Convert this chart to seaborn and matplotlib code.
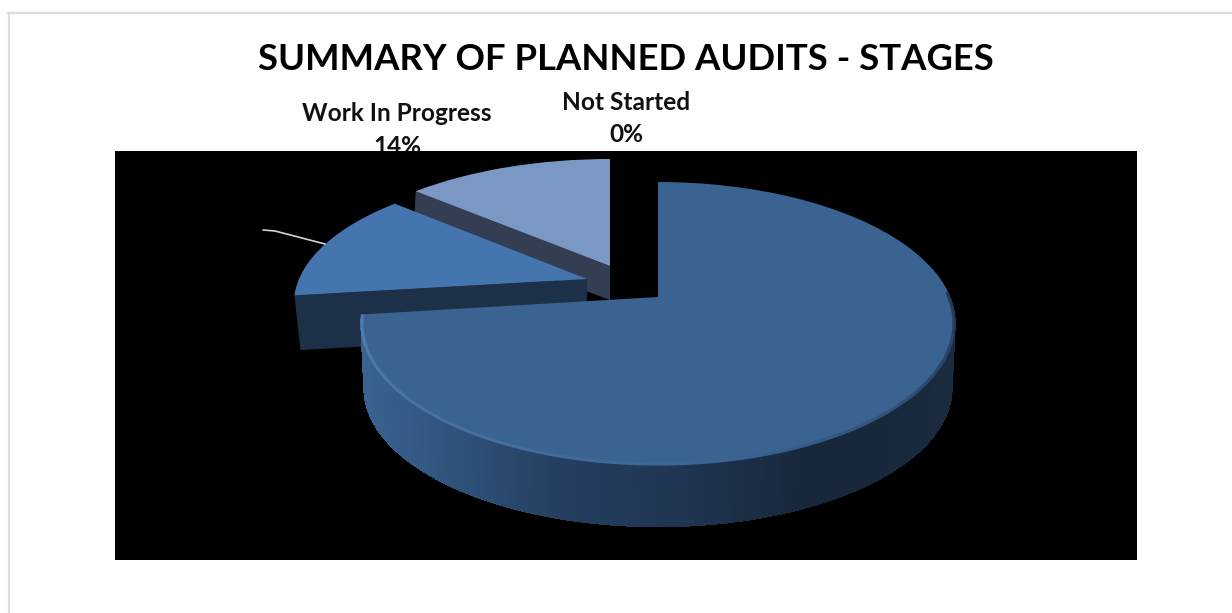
import numpy as np
import seaborn as sns
import matplotlib
matplotlib.use("Agg")
import matplotlib.pyplot as plt
from matplotlib.transforms import Transform
from matplotlib.collections import PolyCollection, LineCollection
from matplotlib.colors import LinearSegmentedColormap, to_rgb

# ---------- data ----------
categories = ["Completed", "Rework", "Work In Progress", "Not Started"]
shares = [73, 13.5, 13.5, 0]
title = "SUMMARY OF PLANNED AUDITS - STAGES"
face_colors = ["#3a6391", "#4575ae", "#7b98c5", "#3a6391"]

sns.set_theme(style="white")
plt.rcParams["font.family"] = ["Lato", "DejaVu Sans"]

W, H = 1232, 613
fig = plt.figure(figsize=(W / 100, H / 100), dpi=100, facecolor="white")
L, T, R, B = 115, 151, 1137, 560
ax = fig.add_axes([L / W, 1 - B / H, (R - L) / W, (B - T) / H])


class Tilt(Transform):
    """Perspective view of the pie plane; output is in pixel-like data units."""
    input_dims = output_dims = 2
    is_separable = False
    has_inverse = False
    is_affine = False

    def __init__(self, cx, cy, a, b, p=0.187):
        super().__init__()
        self.cx, self.cy, self.a, self.b, self.p = cx, cy, a, b, p

    def transform_non_affine(self, values):
        v = np.asarray(values, float)
        d = 1 + self.p * v[:, 1]
        return np.column_stack([self.cx + self.a * v[:, 0] / d,
                                self.cy - self.b * v[:, 1] / d])


def unit(theta):
    t = np.radians(theta)
    return np.column_stack([np.cos(t), np.sin(t)])


wedges, _ = ax.pie(shares, startangle=90, counterclock=False, radius=1,
                   colors=face_colors, wedgeprops={"linewidth": 0, "zorder": 5})
ax.set_aspect("auto")
ax.set_xlim(L, R)
ax.set_ylim(B, T)
ax.set_frame_on(True)
ax.set_facecolor("black")
for s in ax.spines.values():
    s.set_visible(False)

# top and bottom projections of each exploded slice
tops = [Tilt(658, 297, 292, 136.5), Tilt(587, 279, 288, 128), Tilt(610, 266, 291, 127), Tilt(658, 297, 292, 136.5)]
bots = [Tilt(658, 362, 289, 134), Tilt(587, 334, 282, 125), Tilt(610, 300, 294, 125), Tilt(658, 362, 289, 134)]
z_top = [30, 20, 10, 9]
for w, t, z in zip(wedges, tops, z_top):
    w.set_transform(t + ax.transData)
    w.set_zorder(z)
wedges[3].set_visible(False)

# side of the large slice, shaded from left to right
m = wedges[0]
rim_start = 180 + (m.theta1 % 180)
th = np.linspace(rim_start, 372, 320)
p_top, p_bot = tops[0].transform(unit(th)), bots[0].transform(unit(th))
quads = [np.array([p_top[i], p_top[i + 1], p_bot[i + 1], p_bot[i]]) for i in range(len(th) - 1)]
shade = LinearSegmentedColormap.from_list("rim", [(0, "#3a6391"), (0.13, "#31557f"), (0.33, "#253f60"),
                                                  (0.55, "#1f3450"), (0.78, "#172638"), (1, "#1a2b40")])
xm = np.array([q[:, 0].mean() for q in quads])
pc = PolyCollection(quads, facecolors=shade((xm - 362) / (955 - 362)), edgecolors="none", antialiaseds=False, zorder=25)
ax.add_collection(pc)
# bevel highlight on the rim of the large slice
hl = np.linspace(rim_start, 362, 200)
p = tops[0].transform(unit(hl) * 0.996)
segs = [p[i:i + 2] for i in range(len(p) - 1)]
f = np.linspace(0, 1, len(segs))
base, light, dark = np.array(to_rgb("#3a6391")), np.array(to_rgb("#4f7fb6")), np.array(to_rgb("#1f3450"))
cols = [light + (base - light) * (x / 0.55) if x < 0.55 else base + (dark - base) * (x - 0.55) / 0.45 for x in f]
ax.add_collection(LineCollection(segs, colors=cols, linewidths=2.2, zorder=31))

# cut faces of the two pulled-out slices
for i, col in ((1, "#1c3148"), (2, "#343e53")):
    edge = unit(np.array([wedges[i].theta2]))
    zero = np.zeros((1, 2))
    poly = np.vstack([tops[i].transform(zero), tops[i].transform(edge),
                      bots[i].transform(edge), bots[i].transform(zero)])
    ax.fill(poly[:, 0], poly[:, 1], color=col, lw=0, zorder=z_top[i] - 1)

# leader line toward the slice label
ax.plot([263, 275, 325], [230, 231, 244], color="#d4d4d4", lw=1.2, zorder=40)

ax.set_xticks([])
ax.set_yticks([])

# texts sit below the plot area, which covers part of the label
fig.text(626 / W, 1 - 60 / H, title, ha="center", va="center", fontsize=26.3, fontweight="bold",
         color="black", zorder=-1)
fig.text(397 / W, 1 - 113 / H, categories[2], ha="center", va="center", fontsize=17.6, fontweight="bold",
         color="#111111", zorder=-1)
fig.text(397 / W, 1 - 146 / H, f"{shares[2]:.0f}%", ha="center", va="center", fontsize=17.6, fontweight="bold",
         color="#111111", zorder=-1)
fig.text(626 / W, 1 - 102 / H, categories[3], ha="center", va="center", fontsize=17.6, fontweight="bold",
         color="#111111", zorder=-1)
fig.text(626 / W, 1 - 135 / H, f"{shares[3]:.0f}%", ha="center", va="center", fontsize=17.6, fontweight="bold",
         color="#111111", zorder=-1)

# outer chart border (top and left only show in the crop)
fig.add_artist(plt.Line2D([9 / W, 9 / W], [0, 1 - 13 / H], color="#dcdcdc", lw=1.6, zorder=-2))
fig.add_artist(plt.Line2D([8 / W, 1], [1 - 13 / H, 1 - 13 / H], color="#dcdcdc", lw=1.6, zorder=-2))

fig.savefig("out.png", dpi=100, facecolor="white")
